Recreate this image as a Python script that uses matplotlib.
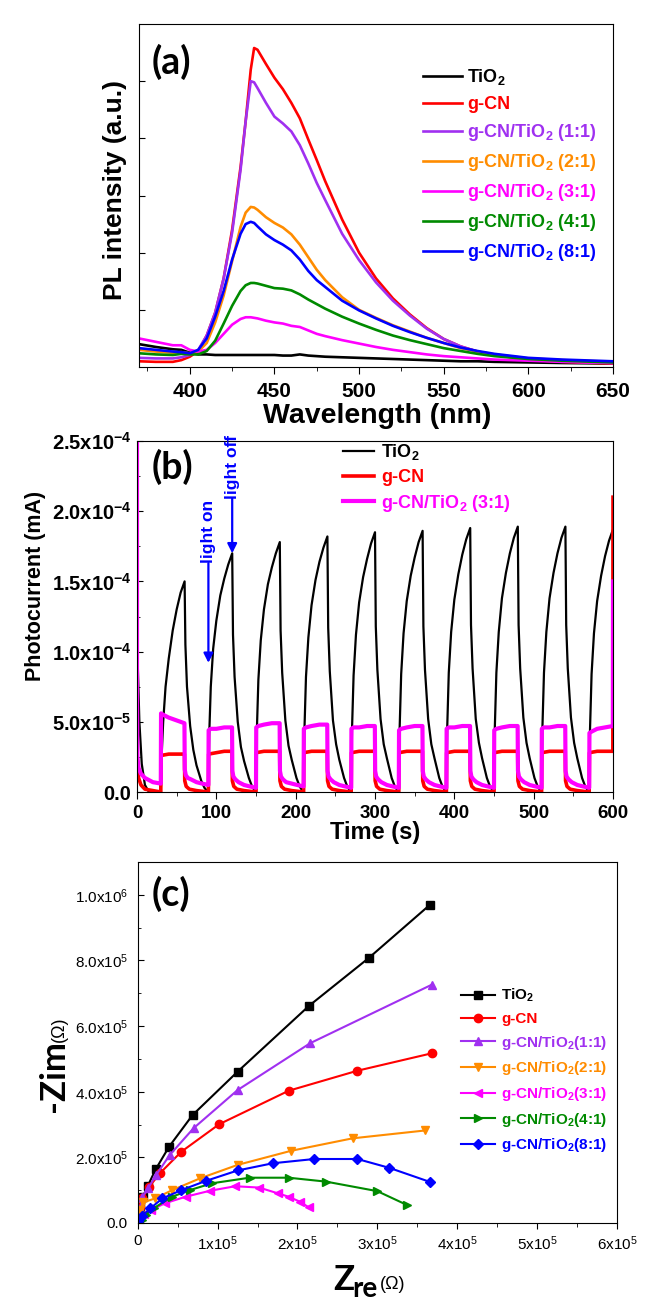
import numpy as np
import matplotlib
matplotlib.use("Agg")
import matplotlib.pyplot as plt
from matplotlib.ticker import FixedLocator, MultipleLocator

plt.rcParams['font.family'] = ['Liberation Sans', 'DejaVu Sans']
plt.rcParams['font.weight'] = 'bold'
plt.rcParams['mathtext.default'] = 'regular'

W, H = 661, 1310

# ---------------- (a) PL spectra ----------------
wavelength = [370, 380, 390, 395, 400, 405, 410, 415, 420, 425, 430, 433, 436, 438, 440,
              445, 450, 455, 460, 465, 470, 475, 480, 490, 500, 510, 520, 530, 540, 550,
              560, 570, 580, 600, 620, 650]
pl_tio2 = [0.40, 0.35, 0.31, 0.30, 0.25, 0.22, 0.22, 0.21, 0.21, 0.21, 0.21, 0.21, 0.21, 0.21, 0.21,
           0.21, 0.21, 0.20, 0.20, 0.22, 0.20, 0.19, 0.18, 0.17, 0.16, 0.15, 0.14, 0.13, 0.12, 0.11,
           0.10, 0.10, 0.09, 0.08, 0.07, 0.06]
pl_gcn = [0.10, 0.09, 0.09, 0.12, 0.18, 0.28, 0.55, 0.95, 1.55, 2.40, 3.50, 4.30, 5.20, 5.58, 5.55,
          5.30, 5.06, 4.86, 4.62, 4.35, 3.98, 3.62, 3.25, 2.58, 2.00, 1.55, 1.20, 0.92, 0.68, 0.49,
          0.36, 0.27, 0.21, 0.13, 0.09, 0.06]
pl_11 = [0.16, 0.15, 0.15, 0.17, 0.21, 0.30, 0.55, 0.95, 1.55, 2.35, 3.45, 4.30, 5.00, 4.98, 4.88,
         4.62, 4.38, 4.26, 4.12, 3.88, 3.56, 3.22, 2.92, 2.33, 1.87, 1.48, 1.16, 0.90, 0.67, 0.49,
         0.36, 0.27, 0.21, 0.14, 0.10, 0.07]
pl_21 = [0.30, 0.27, 0.25, 0.26, 0.24, 0.27, 0.42, 0.78, 1.25, 1.85, 2.45, 2.70, 2.80, 2.79, 2.75,
         2.62, 2.52, 2.44, 2.32, 2.14, 1.92, 1.70, 1.52, 1.22, 1.00, 0.86, 0.73, 0.62, 0.51, 0.42,
         0.33, 0.27, 0.22, 0.15, 0.12, 0.09]
pl_31 = [0.50, 0.44, 0.38, 0.38, 0.30, 0.27, 0.30, 0.42, 0.58, 0.74, 0.84, 0.87, 0.87, 0.86, 0.85,
         0.81, 0.78, 0.76, 0.72, 0.70, 0.64, 0.58, 0.54, 0.47, 0.41, 0.35, 0.30, 0.26, 0.22, 0.19,
         0.17, 0.15, 0.13, 0.11, 0.09, 0.07]
pl_41 = [0.24, 0.22, 0.21, 0.23, 0.22, 0.22, 0.28, 0.46, 0.76, 1.07, 1.33, 1.43, 1.47, 1.47, 1.46,
         1.42, 1.38, 1.37, 1.34, 1.27, 1.18, 1.10, 1.02, 0.88, 0.76, 0.65, 0.55, 0.47, 0.40, 0.33,
         0.28, 0.23, 0.19, 0.14, 0.11, 0.08]
pl_81 = [0.33, 0.30, 0.27, 0.26, 0.24, 0.30, 0.50, 0.88, 1.33, 1.88, 2.33, 2.50, 2.54, 2.52, 2.46,
         2.32, 2.22, 2.14, 2.04, 1.88, 1.68, 1.52, 1.40, 1.16, 0.99, 0.85, 0.72, 0.61, 0.51, 0.42,
         0.34, 0.28, 0.23, 0.16, 0.13, 0.10]

pl_names = ['TiO$_2$', 'g-CN', 'g-CN/TiO$_2$ (1:1)', 'g-CN/TiO$_2$ (2:1)', 'g-CN/TiO$_2$ (3:1)',
            'g-CN/TiO$_2$ (4:1)', 'g-CN/TiO$_2$ (8:1)']
colors = ['#000000', '#ff0000', '#a030f0', '#ff8c00', '#ff00ff', '#008a00', '#0000ff']

# ---------------- (b) photocurrent (x1e-4 mA) ----------------
light_on = [30, 90, 150, 210, 270, 330, 390, 450, 510, 570]

tio2_start_t = [0, 1, 3, 6, 10, 15, 30]
tio2_start_i = [1.35, 0.90, 0.50, 0.20, 0.05, 0.00, 0.00]
tio2_rel = [0, 1, 3, 6, 10, 15, 20, 25, 30, 31, 33, 37, 41, 45, 51, 55, 59.5]
tio2_cycles = [
    [0.00, 0.25, 0.50, 0.75, 0.95, 1.15, 1.30, 1.42, 1.50, 1.05, 0.75, 0.47, 0.30, 0.19, 0.08, 0.03, 0.00],
    [0.00, 0.40, 0.75, 1.02, 1.22, 1.40, 1.52, 1.62, 1.70, 1.12, 0.82, 0.50, 0.32, 0.22, 0.10, 0.04, 0.00],
    [0.00, 0.42, 0.80, 1.08, 1.30, 1.48, 1.60, 1.70, 1.78, 1.15, 0.85, 0.51, 0.33, 0.23, 0.10, 0.04, 0.00],
    [0.00, 0.43, 0.82, 1.10, 1.33, 1.51, 1.64, 1.74, 1.82, 1.17, 0.86, 0.51, 0.34, 0.23, 0.10, 0.04, 0.00],
    [0.00, 0.44, 0.83, 1.12, 1.35, 1.53, 1.66, 1.77, 1.85, 1.18, 0.87, 0.52, 0.34, 0.24, 0.10, 0.04, 0.00],
    [0.00, 0.44, 0.84, 1.13, 1.36, 1.54, 1.67, 1.78, 1.86, 1.18, 0.87, 0.52, 0.34, 0.24, 0.10, 0.04, 0.00],
    [0.00, 0.45, 0.85, 1.14, 1.37, 1.55, 1.69, 1.80, 1.88, 1.19, 0.88, 0.52, 0.35, 0.24, 0.10, 0.04, 0.00],
    [0.00, 0.45, 0.85, 1.14, 1.38, 1.56, 1.70, 1.81, 1.89, 1.19, 0.88, 0.53, 0.35, 0.24, 0.10, 0.04, 0.00],
    [0.00, 0.45, 0.85, 1.14, 1.38, 1.56, 1.70, 1.81, 1.89, 1.19, 0.88, 0.53, 0.35, 0.24, 0.10, 0.04, 0.00],
    [0.00, 0.44, 0.84, 1.13, 1.36, 1.54, 1.68, 1.79, 1.87],
]
tio2_end_t = [600]
tio2_end_i = [0.72]

gcn_start_t = [0, 0.5, 2, 5, 10, 20, 30]
gcn_start_i = [0.30, 0.20, 0.10, 0.05, 0.02, 0.01, 0.00]
gcn_rel = [0, 0.3, 10, 20, 29.8, 30.2, 32, 36, 45, 59.8]
gcn_cycles = [
    [0.01, 0.26, 0.27, 0.27, 0.27, 0.08, 0.04, 0.02, 0.01, 0.00],
    [0.00, 0.27, 0.28, 0.29, 0.29, 0.08, 0.04, 0.02, 0.01, 0.00],
    [0.00, 0.28, 0.29, 0.29, 0.29, 0.08, 0.04, 0.02, 0.01, 0.00],
    [0.00, 0.28, 0.29, 0.29, 0.29, 0.08, 0.04, 0.02, 0.01, 0.00],
    [0.00, 0.28, 0.29, 0.29, 0.29, 0.08, 0.04, 0.02, 0.01, 0.00],
    [0.00, 0.28, 0.29, 0.29, 0.29, 0.08, 0.04, 0.02, 0.01, 0.00],
    [0.00, 0.28, 0.29, 0.29, 0.29, 0.08, 0.04, 0.02, 0.01, 0.00],
    [0.00, 0.28, 0.29, 0.29, 0.29, 0.08, 0.04, 0.02, 0.01, 0.00],
    [0.00, 0.28, 0.29, 0.29, 0.29, 0.08, 0.04, 0.02, 0.01, 0.00],
    [0.00, 0.28, 0.29, 0.29, 0.29],
]
gcn_end_t = [600]
gcn_end_i = [2.10]

c31_start_t = [0, 0, 0.5, 2, 5, 10, 20, 30]
c31_start_i = [2.60, 0.70, 0.25, 0.17, 0.13, 0.10, 0.07, 0.06]
c31_rel = [0, 0.3, 3, 10, 20, 29.8, 30.2, 31.5, 34, 38, 45, 52, 59.8]
c31_cycles = [
    [0.06, 0.56, 0.55, 0.53, 0.51, 0.49, 0.16, 0.12, 0.10, 0.09, 0.07, 0.06, 0.05],
    [0.05, 0.44, 0.45, 0.45, 0.46, 0.46, 0.15, 0.11, 0.09, 0.07, 0.05, 0.04, 0.03],
    [0.03, 0.46, 0.47, 0.48, 0.49, 0.49, 0.15, 0.11, 0.09, 0.07, 0.06, 0.05, 0.04],
    [0.04, 0.45, 0.46, 0.47, 0.48, 0.48, 0.15, 0.11, 0.09, 0.07, 0.05, 0.04, 0.03],
    [0.03, 0.45, 0.46, 0.46, 0.47, 0.47, 0.15, 0.11, 0.09, 0.07, 0.05, 0.04, 0.03],
    [0.03, 0.44, 0.45, 0.46, 0.47, 0.47, 0.15, 0.11, 0.09, 0.07, 0.05, 0.04, 0.03],
    [0.03, 0.45, 0.46, 0.46, 0.47, 0.47, 0.15, 0.11, 0.09, 0.07, 0.05, 0.04, 0.03],
    [0.03, 0.44, 0.45, 0.46, 0.47, 0.47, 0.15, 0.11, 0.09, 0.07, 0.05, 0.04, 0.03],
    [0.03, 0.45, 0.46, 0.46, 0.47, 0.47, 0.15, 0.11, 0.09, 0.07, 0.05, 0.04, 0.03],
    [0.03, 0.42, 0.43, 0.45, 0.46, 0.47],
]
c31_end_t = [600]
c31_end_i = [1.50]

pc_names = ['TiO$_2$', 'g-CN', 'g-CN/TiO$_2$ (3:1)']
pc_colors = ['#000000', '#ff0000', '#ff00ff']
pc_yticks = [0, 0.5e-4, 1.0e-4, 1.5e-4, 2.0e-4, 2.5e-4]
pc_yticklabels = ['0.0', '5.0x10$^{-5}$', '1.0x10$^{-4}$', '1.5x10$^{-4}$',
                  '2.0x10$^{-4}$', '2.5x10$^{-4}$']
light_on_arrow = (90, 1.63e-4, 0.92e-4)    # time, arrow start, arrow tip
light_off_arrow = (120, 2.09e-4, 1.70e-4)

# ---------------- (c) Nyquist (x1e5 ohm) ----------------
z_tio2_re = [0.01, 0.03, 0.063, 0.126, 0.226, 0.394, 0.687, 1.25, 2.146, 2.89, 3.66]
z_tio2_im = [0.25, 0.50, 0.78, 1.13, 1.64, 2.33, 3.29, 4.61, 6.62, 8.07, 9.70]
z_gcn_re = [0.01, 0.03, 0.06, 0.14, 0.28, 0.545, 1.02, 1.89, 2.75, 3.68]
z_gcn_im = [0.30, 0.50, 0.76, 1.09, 1.52, 2.17, 3.01, 4.03, 4.64, 5.17]
z_11_re = [0.01, 0.03, 0.06, 0.13, 0.23, 0.40, 0.70, 1.25, 2.16, 3.68]
z_11_im = [0.20, 0.45, 0.80, 1.06, 1.46, 2.07, 2.89, 4.05, 5.48, 7.26]
z_21_re = [0.01, 0.03, 0.07, 0.22, 0.43, 0.78, 1.25, 1.92, 2.69, 3.60]
z_21_im = [0.20, 0.40, 0.63, 0.75, 1.00, 1.36, 1.77, 2.20, 2.58, 2.82]
z_31_re = [0.02, 0.08, 0.17, 0.34, 0.60, 0.90, 1.22, 1.52, 1.76, 1.89, 2.03, 2.14]
z_31_im = [0.10, 0.28, 0.40, 0.60, 0.80, 0.98, 1.12, 1.08, 0.90, 0.80, 0.65, 0.48]
z_41_re = [0.02, 0.05, 0.10, 0.20, 0.43, 0.65, 0.93, 1.40, 1.89, 2.36, 3.00, 3.37]
z_41_im = [0.02, 0.10, 0.25, 0.45, 0.80, 1.00, 1.21, 1.38, 1.38, 1.26, 0.97, 0.55]
z_81_re = [0.01, 0.05, 0.16, 0.31, 0.545, 0.85, 1.25, 1.69, 2.21, 2.75, 3.15, 3.66]
z_81_im = [0.05, 0.20, 0.45, 0.75, 1.00, 1.28, 1.60, 1.82, 1.95, 1.95, 1.68, 1.25]

eis_names = ['TiO$_2$', 'g-CN', 'g-CN/TiO$_2$(1:1)', 'g-CN/TiO$_2$(2:1)', 'g-CN/TiO$_2$(3:1)',
             'g-CN/TiO$_2$(4:1)', 'g-CN/TiO$_2$(8:1)']
eis_markers = ['s', 'o', '^', 'v', '<', '>', 'D']
eis_xticklabels = ['0', '1x10$^5$', '2x10$^5$', '3x10$^5$', '4x10$^5$', '5x10$^5$', '6x10$^5$']
eis_yticklabels = ['0.0', '2.0x10$^5$', '4.0x10$^5$', '6.0x10$^5$', '8.0x10$^5$', '1.0x10$^6$']


def rect(l, t, r, b):
    return [l / W, 1 - b / H, (r - l) / W, (b - t) / H]


def fxy(x, y):
    return x / W, 1 - y / H


def stitch(start_t, start_i, rel, cycles, end_t, end_i):
    t = list(start_t)
    i = list(start_i)
    for on, vals in zip(light_on, cycles):
        t += [on + r for r in rel[:len(vals)]]
        i += vals
    t += end_t
    i += end_i
    return np.array(t), np.array(i) * 1e-4


def color_legend(leg):
    for txt, h in zip(leg.get_texts(), leg.legend_handles):
        txt.set_color(h.get_color())


fig = plt.figure(figsize=(W / 100, H / 100), dpi=100)
letter_font = ['Lato', 'Liberation Sans']

# ===== (a) =====
ax = fig.add_axes(rect(139, 24, 613, 367))
pl_sets = [pl_tio2, pl_gcn, pl_11, pl_21, pl_31, pl_41, pl_81]
for vals, name, c in zip(pl_sets, pl_names, colors):
    ax.plot(wavelength, vals, color=c, lw=1.9, label=name)
ax.set_xlim(370, 650)
ax.set_ylim(0, 6.0)
ax.xaxis.set_major_locator(MultipleLocator(50))
ax.xaxis.set_minor_locator(MultipleLocator(25))
ax.yaxis.set_major_locator(FixedLocator([1, 2, 3, 4, 5]))
ax.set_yticklabels([])
ax.tick_params(axis='x', which='both', direction='out', labelsize=15, pad=6)
ax.tick_params(axis='x', which='major', length=5)
ax.tick_params(axis='x', which='minor', length=3)
ax.tick_params(axis='y', direction='in', length=4)
leg = ax.legend(loc='upper left', bbox_to_anchor=fxy(423, 67), bbox_transform=fig.transFigure,
                frameon=False, fontsize=13, handlelength=2.15, handletextpad=0.3,
                labelspacing=0.5, borderpad=0, borderaxespad=0)
color_legend(leg)
fig.text(*fxy(152, 62), '(a)', family=letter_font, fontsize=27,
         fontweight='bold', va='center', ha='left')
fig.text(*fxy(115, 190), 'PL intensity (a.u.)', fontsize=19, rotation=90,
         ha='center', va='center')
fig.text(*fxy(377, 416), 'Wavelength (nm)', fontsize=20.5, ha='center', va='center')

# ===== (b) =====
ax = fig.add_axes(rect(137, 441, 613, 792))
series = [stitch(tio2_start_t, tio2_start_i, tio2_rel, tio2_cycles, tio2_end_t, tio2_end_i),
          stitch(gcn_start_t, gcn_start_i, gcn_rel, gcn_cycles, gcn_end_t, gcn_end_i),
          stitch(c31_start_t, c31_start_i, c31_rel, c31_cycles, c31_end_t, c31_end_i)]
widths = [1.6, 2.6, 3.0]
for (t, i), name, c, lw in zip(series, pc_names, pc_colors, widths):
    ax.plot(t, i, color=c, lw=lw, label=name)
ax.set_xlim(0, 600)
ax.set_ylim(0, 2.5e-4)
ax.xaxis.set_major_locator(MultipleLocator(100))
ax.xaxis.set_minor_locator(MultipleLocator(50))
ax.yaxis.set_major_locator(FixedLocator(pc_yticks))
ax.set_yticklabels(pc_yticklabels)
ax.yaxis.set_minor_locator(MultipleLocator(0.25e-4))
ax.tick_params(axis='x', which='both', direction='out', labelsize=13.5, pad=4)
ax.tick_params(axis='x', which='major', length=5)
ax.tick_params(axis='x', which='minor', length=3)
ax.tick_params(axis='y', which='both', direction='in', labelsize=14.5, pad=4)
ax.tick_params(axis='y', which='major', length=4)
ax.tick_params(axis='y', which='minor', length=2.5)
leg = ax.legend(loc='upper left', bbox_to_anchor=fxy(343, 442), bbox_transform=fig.transFigure,
                frameon=False, fontsize=13, handlelength=1.7, handletextpad=0.4,
                labelspacing=0.38, borderpad=0, borderaxespad=0)
color_legend(leg)
for label, (t0, y_start, y_tip) in [('light on', light_on_arrow), ('light off', light_off_arrow)]:
    ax.text(t0, y_start, label, color='#0000ff', fontsize=12.5, fontweight='bold',
            rotation=90, ha='center', va='bottom')
    ax.annotate('', xy=(t0, y_tip), xytext=(t0, y_start),
                arrowprops=dict(arrowstyle='-|>', color='#0000ff', lw=1.6,
                                mutation_scale=14, shrinkA=0, shrinkB=0))
fig.text(*fxy(152, 467), '(b)', family=letter_font, fontsize=27,
         fontweight='bold', va='center', ha='left')
fig.text(*fxy(36, 586), 'Photocurrent (mA)', fontsize=15.5, rotation=90,
         ha='center', va='center')
fig.text(*fxy(375, 833), 'Time (s)', fontsize=17, ha='center', va='center')

# ===== (c) =====
ax = fig.add_axes(rect(137.7, 862, 617, 1223))
eis = [(z_tio2_re, z_tio2_im), (z_gcn_re, z_gcn_im), (z_11_re, z_11_im), (z_21_re, z_21_im),
       (z_31_re, z_31_im), (z_41_re, z_41_im), (z_81_re, z_81_im)]
for (zr, zi), name, c, m in zip(eis, eis_names, colors, eis_markers):
    ms = 5 if m == 'D' else 6
    ax.plot(np.array(zr) * 1e5, np.array(zi) * 1e5, color=c, lw=1.5, marker=m,
            ms=ms, label=name)
ax.set_xlim(0, 6e5)
ax.set_ylim(0, 1.1e6)
ax.xaxis.set_major_locator(FixedLocator([0, 1e5, 2e5, 3e5, 4e5, 5e5, 6e5]))
ax.set_xticklabels(eis_xticklabels)
ax.xaxis.set_minor_locator(MultipleLocator(0.5e5))
ax.yaxis.set_major_locator(FixedLocator([0, 2e5, 4e5, 6e5, 8e5, 1e6]))
ax.set_yticklabels(eis_yticklabels)
ax.yaxis.set_minor_locator(MultipleLocator(1e5))
ax.tick_params(axis='x', which='both', direction='out', labelsize=11, pad=4)
ax.tick_params(axis='x', which='major', length=4)
ax.tick_params(axis='x', which='minor', length=3)
ax.tick_params(axis='y', which='both', direction='in', labelsize=11, pad=7)
ax.tick_params(axis='y', which='major', length=4)
ax.tick_params(axis='y', which='minor', length=2.5)
for lab in ax.get_xticklabels() + ax.get_yticklabels():
    lab.set_fontweight('normal')
leg = ax.legend(loc='upper left', bbox_to_anchor=fxy(461, 987), bbox_transform=fig.transFigure,
                frameon=False, fontsize=11, handlelength=2.2, handletextpad=0.45,
                labelspacing=0.5, borderpad=0, borderaxespad=0)
color_legend(leg)
fig.text(*fxy(152, 894), '(c)', family=letter_font, fontsize=27,
         fontweight='bold', va='center', ha='left')
fig.text(*fxy(64, 1112), '-Zim', family=letter_font, fontsize=25,
         fontweight='bold', rotation=90, rotation_mode='anchor', ha='left', va='baseline')
fig.text(*fxy(64, 1042), '(\u03a9)', family=['Liberation Sans'], fontsize=13,
         fontweight='normal', rotation=90, rotation_mode='anchor', ha='left', va='baseline')
fig.text(*fxy(333, 1290), 'Z', family=letter_font, fontsize=25,
         fontweight='bold', ha='left', va='baseline')
fig.text(*fxy(352, 1297), 're', family=letter_font, fontsize=20,
         fontweight='bold', ha='left', va='baseline')
fig.text(*fxy(380, 1289), '(\u03a9)', family=['Liberation Sans'], fontsize=13,
         fontweight='normal', ha='left', va='baseline')

fig.savefig('out.png', dpi=100)
